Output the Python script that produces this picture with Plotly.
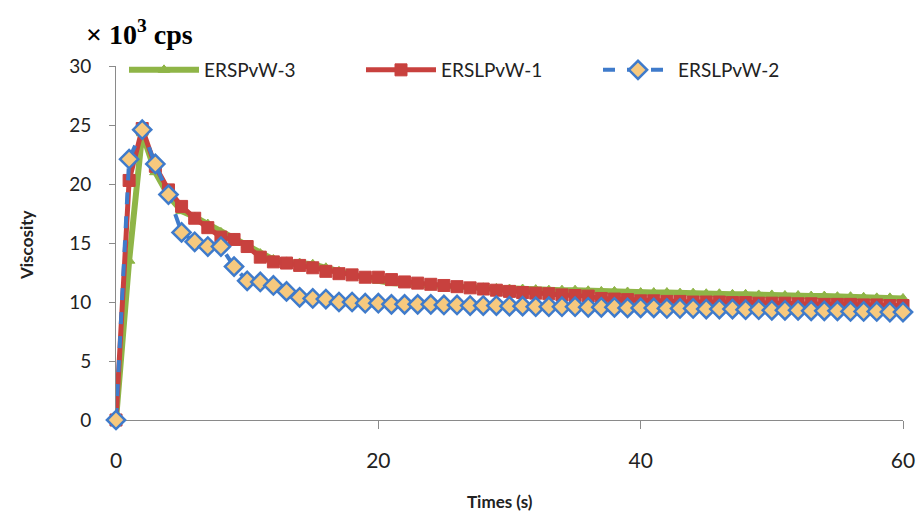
import plotly.graph_objects as go

times = list(range(0, 61))

ersp_w3 = [0, 13.5, 24.3, 21.0, 19.0, 17.7, 17.2, 16.6, 15.9, 15.4,
           14.8, 14.1, 13.6, 13.4, 13.3, 13.2, 12.9, 12.6, 12.3, 12.1,
           11.8, 11.6, 11.5, 11.45, 11.4, 11.35, 11.3, 11.25, 11.2, 11.15,
           11.1, 11.1, 11.05, 11.0, 11.0, 11.0, 10.95, 10.9, 10.9, 10.85,
           10.8, 10.8, 10.8, 10.75, 10.75, 10.7, 10.7, 10.65, 10.65, 10.6,
           10.6, 10.55, 10.55, 10.5, 10.5, 10.45, 10.45, 10.4, 10.35, 10.35,
           10.3]

erslp_w1 = [0, 20.3, 24.7, 21.5, 19.5, 18.1, 17.1, 16.3, 15.5, 15.3,
            14.7, 13.8, 13.4, 13.3, 13.1, 12.9, 12.6, 12.4, 12.3, 12.1,
            12.1, 11.9, 11.7, 11.6, 11.5, 11.4, 11.3, 11.2, 11.1, 11.0,
            10.9, 10.8, 10.75, 10.7, 10.6, 10.55, 10.5, 10.3, 10.25, 10.2,
            10.1, 10.1, 10.05, 10.05, 10.0, 10.0, 10.0, 9.95, 9.95, 9.9,
            9.9, 9.9, 9.85, 9.85, 9.8, 9.8, 9.8, 9.75, 9.75, 9.7,
            9.7]

erslp_w2 = [0, 22.1, 24.6, 21.7, 19.1, 15.9, 15.1, 14.7, 14.7, 13.0,
            11.8, 11.7, 11.4, 10.9, 10.4, 10.3, 10.25, 10.0, 10.0, 9.9,
            9.9, 9.8, 9.8, 9.8, 9.8, 9.75, 9.75, 9.7, 9.7, 9.7,
            9.65, 9.65, 9.6, 9.6, 9.6, 9.6, 9.55, 9.55, 9.55, 9.5,
            9.5, 9.5, 9.45, 9.45, 9.45, 9.4, 9.4, 9.4, 9.35, 9.35,
            9.3, 9.3, 9.3, 9.25, 9.25, 9.25, 9.2, 9.2, 9.2, 9.15,
            9.15]

x_ticks = [0, 20, 40, 60]
y_ticks = [0, 5, 10, 15, 20, 25, 30]

W, H = 919, 513
L, R, T, B = 116, 919 - 903, 66, 513 - 420
pw = W - L - R
ph = H - T - B


def px(x):
    return (x - L) / pw


def py(y):
    return (H - B - y) / ph


fig = go.Figure()
fig.add_trace(go.Scatter(
    x=times, y=ersp_w3, name="ERSPvW-3", mode="lines+markers", cliponaxis=False,
    line=dict(color="#8FB547", width=6),
    marker=dict(symbol="triangle-up", size=10, color="#8FB547",
                line=dict(color="#8FB547", width=1))))
fig.add_trace(go.Scatter(
    x=times, y=erslp_w1, name="ERSLPvW-1", mode="lines+markers", cliponaxis=False,
    line=dict(color="#C8413E", width=5),
    marker=dict(symbol="square", size=12, color="#C8413E",
                line=dict(color="#C8413E", width=1))))
fig.add_trace(go.Scatter(
    x=times, y=erslp_w2, name="ERSLPvW-2", mode="lines+markers", cliponaxis=False,
    line=dict(color="#3F7BCB", width=4, dash="dash"),
    marker=dict(symbol="diamond", size=14, color="#F7C97E",
                line=dict(color="#3F7BCB", width=2.5))))

fig.update_layout(
    width=W, height=H,
    margin=dict(l=L, r=R, t=T, b=B, autoexpand=False),
    paper_bgcolor="white", plot_bgcolor="white",
    font=dict(family="Lato, Open Sans, sans-serif", color="#222222"),
    showlegend=True,
    legend=dict(orientation="h", x=px(124), y=py(70), xanchor="left",
                yanchor="middle", font=dict(size=19, color="#222222"),
                entrywidth=152, itemwidth=70, bgcolor="rgba(255,255,255,0)"),
    xaxis=dict(range=[0, 60], tickvals=x_ticks, showgrid=False,
               zeroline=False, showline=True, linecolor="#8A8A8A",
               linewidth=1, ticks="outside", ticklen=8, tickcolor="#8A8A8A",
               tickfont=dict(size=21), ticklabelstandoff=14, automargin=False,
               ticklabeloverflow="allow", layer="below traces"),
    yaxis=dict(range=[0, 30], tickvals=y_ticks, showgrid=False,
               zeroline=False, showline=True, linecolor="#8A8A8A",
               linewidth=1, ticks="outside", ticklen=6, tickcolor="#8A8A8A",
               tickfont=dict(size=19), ticklabelstandoff=14, automargin=False,
               layer="below traces"),
    annotations=[
        dict(text="<b>Viscosity</b>", x=px(26), y=py(245), xref="paper",
             yref="paper", xanchor="center", yanchor="middle",
             showarrow=False, textangle=-90, font=dict(size=17)),
        dict(text="<b>Times (s)</b>", x=px(500), y=py(501), xref="paper",
             yref="paper", xanchor="center", yanchor="middle",
             showarrow=False, font=dict(size=17)),
        dict(text="<b>× 10<sup>3</sup> cps</b>", x=px(84), y=py(32), xref="paper",
             yref="paper", xanchor="left", yanchor="middle", showarrow=False,
             font=dict(size=28, family="Liberation Serif, Times New Roman, serif",
                       color="#000000")),
    ],
)

fig.write_html(
    "out.html",
    config={"displayModeBar": False},
    post_script="document.body.style.margin='0';document.body.style.overflow='hidden';",
)
